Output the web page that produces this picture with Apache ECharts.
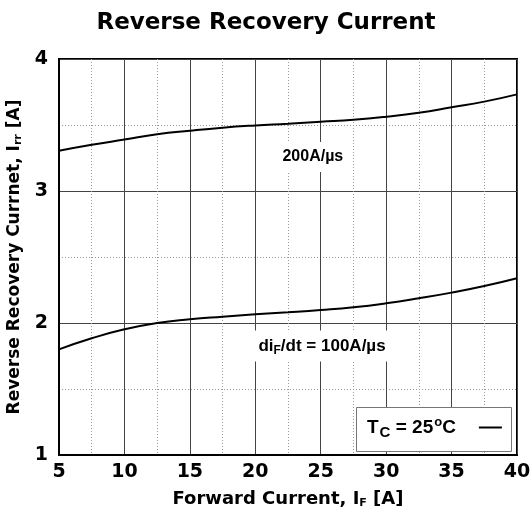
<!DOCTYPE html>
<html>
<head>
<meta charset="utf-8">
<script src="https://cdn.jsdelivr.net/npm/echarts@6/dist/echarts.min.js"></script>
<style>html,body{margin:0;padding:0;background:#fff;}#c{width:532px;height:520px;}</style>
</head>
<body>
<div id="c"></div>
<script>
const titleText = 'Reverse Recovery Current';
const xValues = [5, 7.5, 10, 12.5, 15, 17.5, 20, 22.5, 25, 27.5, 30, 32.5, 35, 37.5, 40];
const irr200 = [3.305, 3.35, 3.39, 3.43, 3.457, 3.48, 3.497, 3.51, 3.525, 3.54, 3.563, 3.593, 3.634, 3.677, 3.732];
const irr100 = [1.80, 1.884, 1.952, 2.0, 2.028, 2.048, 2.066, 2.081, 2.098, 2.119, 2.149, 2.187, 2.23, 2.28, 2.339];
const label200 = { text: '200A/µs', x: 24.4, y: 3.258 };
const label100 = { text: '{a|di}{s|F}{a|/dt = 100A/µs}', x: 25.1, y: 1.826 };
const legendName = 'Tc';

const FONT = 'Liberation Sans, Arial, Helvetica, sans-serif';
const WIDE = 'DejaVu Sans, Verdana, sans-serif';
const chart = echarts.init(document.getElementById('c'), null, { renderer: 'canvas' });

function pairs(ys) { return xValues.map((x, i) => [x, ys[i]]); }

const labelBase = {
  show: true, position: 'inside', color: '#000', fontFamily: FONT,
  fontSize: 17, fontWeight: 'bold', backgroundColor: '#fff'
};

chart.setOption({
  animation: false,
  backgroundColor: '#fff',
  title: {
    text: titleText, left: 'center', top: 7,
    textStyle: { fontFamily: WIDE, fontSize: 23, fontWeight: 'bold', color: '#000' }
  },
  grid: {
    left: 59, right: 15, top: 59, bottom: 65, outerBoundsMode: 'none', containLabel: false,
    show: true, borderColor: '#000', borderWidth: 2, backgroundColor: 'transparent'
  },
  xAxis: {
    type: 'value', min: 5, max: 40, interval: 5,
    name: '{a|Forward Current, I}{s|F}{a| [A]}', nameLocation: 'middle', nameGap: 35,
    nameTextStyle: {
      fontFamily: WIDE, color: '#000',
      rich: {
        a: { fontFamily: WIDE, fontSize: 18, fontWeight: 'bold', color: '#000' },
        s: { fontFamily: WIDE, fontSize: 11, fontWeight: 'bold', color: '#000', padding: [8, 0, 0, 0] }
      }
    },
    axisLine: { show: true, lineStyle: { color: '#000', width: 2 } },
    axisTick: { show: false },
    axisLabel: { color: '#000', fontFamily: WIDE, fontSize: 19, fontWeight: 'bold', margin: 8 },
    splitLine: { show: true, lineStyle: { color: '#444', width: 1 } },
    minorTick: { show: false, splitNumber: 2 },
    minorSplitLine: { show: true, lineStyle: { color: '#999', width: 1, type: [1, 2] } }
  },
  yAxis: {
    type: 'value', min: 1, max: 4, interval: 1,
    name: '{a|Reverse Recovery Currnet, I}{s|rr}{a| [A]}', nameLocation: 'middle', nameGap: 29, nameRotate: 90,
    nameTextStyle: {
      fontFamily: WIDE, color: '#000',
      rich: {
        a: { fontFamily: WIDE, fontSize: 17, fontWeight: 'bold', color: '#000' },
        s: { fontFamily: WIDE, fontSize: 11, fontWeight: 'bold', color: '#000', padding: [8, 0, 0, 0] }
      }
    },
    axisLine: { show: true, lineStyle: { color: '#000', width: 2 } },
    axisTick: { show: false },
    axisLabel: { color: '#000', fontFamily: WIDE, fontSize: 19, fontWeight: 'bold', margin: 11 },
    splitLine: { show: true, lineStyle: { color: '#444', width: 1 } },
    minorTick: { show: false, splitNumber: 2 },
    minorSplitLine: { show: true, lineStyle: { color: '#999', width: 1, type: [1, 2] } }
  },
  legend: {
    data: [legendName], left: 367, top: 416, align: 'right', icon: 'rect',
    itemWidth: 23, itemHeight: 2, padding: 0,
    formatter: () => '{t|T}{s|C}{t| = 25}{p|o}{t|C}{g|}',
    textStyle: {
      color: '#000', fontFamily: FONT,
      rich: {
        t: { fontFamily: FONT, fontSize: 19, fontWeight: 'bold', color: '#000' },
        s: { fontFamily: FONT, fontSize: 15, fontWeight: 'bold', color: '#000', padding: [10, 0, 0, 1] },
        p: { fontFamily: FONT, fontSize: 13, fontWeight: 'bold', color: '#000', padding: [0, 0, 10, 1] },
        g: { width: 18 }
      }
    }
  },
  graphic: [{
    type: 'rect', z: 3, shape: { x: 356.5, y: 407.5, width: 155, height: 44 },
    style: { fill: '#fff', stroke: '#777', lineWidth: 1 }
  }],
  series: [
    {
      name: legendName, type: 'line', smooth: true, symbol: 'none',
      lineStyle: { color: '#000', width: 2 }, itemStyle: { color: '#000' },
      data: pairs(irr200),
      markPoint: {
        symbol: 'rect', symbolSize: 1, itemStyle: { color: 'rgba(0,0,0,0)' },
        label: Object.assign({}, labelBase, { fontSize: 16, padding: [7, 5], formatter: label200.text }),
        data: [{ coord: [label200.x, label200.y] }]
      }
    },
    {
      name: legendName, type: 'line', smooth: true, symbol: 'none',
      lineStyle: { color: '#000', width: 2 }, itemStyle: { color: '#000' },
      data: pairs(irr100),
      markPoint: {
        symbol: 'rect', symbolSize: 1, itemStyle: { color: 'rgba(0,0,0,0)' },
        label: Object.assign({}, labelBase, {
          padding: [5, 6], formatter: label100.text,
          rich: {
            a: { fontFamily: FONT, fontSize: 17, fontWeight: 'bold', color: '#000' },
            s: { fontFamily: FONT, fontSize: 12, fontWeight: 'bold', color: '#000', padding: [9, 0, 0, 0] }
          }
        }),
        data: [{ coord: [label100.x, label100.y] }]
      }
    }
  ]
});
</script>
</body>
</html>
